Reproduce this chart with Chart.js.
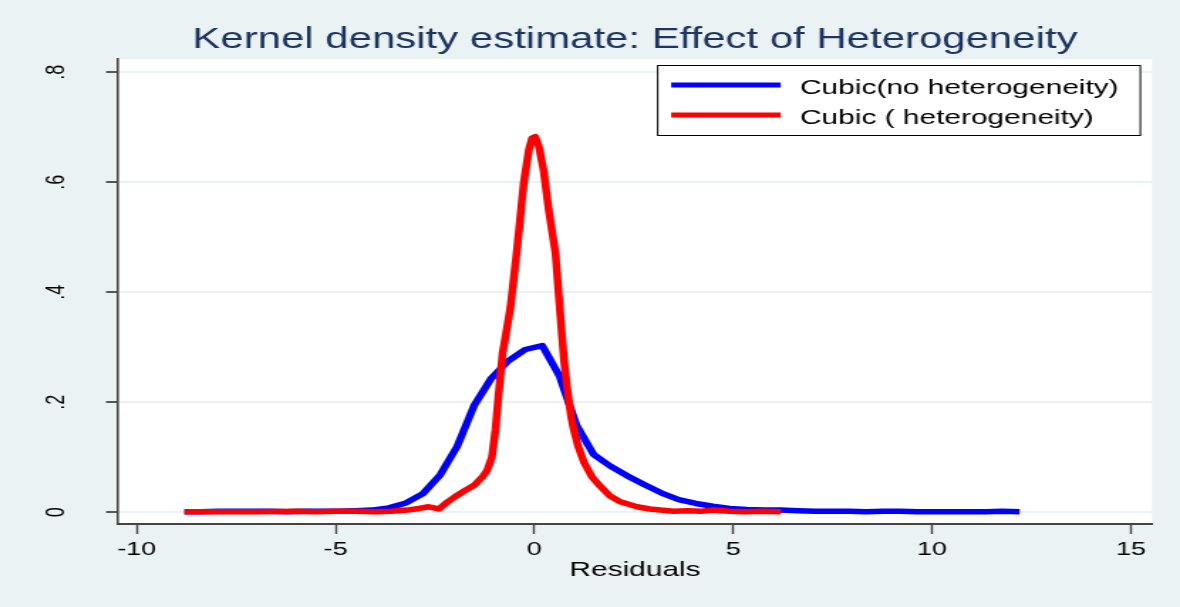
<!DOCTYPE html>
<html>
<head>
<meta charset="utf-8">
<title>Kernel density estimate</title>
<script src="https://cdn.jsdelivr.net/npm/chart.js@4.4.1/dist/chart.umd.min.js"></script>
<style>
  html, body { margin: 0; padding: 0; background: #eaf2f3; }
  #kde { display: block; }
</style>
</head>
<body>
<!-- drawn at 830 wide, then stretched to the page width like the original graph export -->
<canvas id="kde" width="830" height="607" style="width:1180px;height:607px"></canvas>
<script>
// residual grid and density values, no heterogeneity
var noHetX = [-8.8, -8.37, -7.94, -7.51, -7.09, -6.66, -6.23, -5.8, -5.37, -4.94,
              -4.51, -4.09, -3.66, -3.23, -2.8, -2.37, -1.94, -1.51, -1.09, -0.66,
              -0.23, 0.2, 0.63, 1.06, 1.49, 1.91, 2.34, 2.77, 3.2, 3.63,
              4.06, 4.49, 4.91, 5.34, 5.77, 6.2, 6.63, 7.06, 7.49, 7.91,
              8.34, 8.77, 9.2, 9.63, 10.06, 10.49, 10.91, 11.34, 11.77, 12.2];
var noHetY = [0.001, 0.001, 0.002, 0.002, 0.002, 0.002, 0.001, 0.002, 0.002, 0.002,
              0.003, 0.004, 0.008, 0.017, 0.034, 0.068, 0.12, 0.195, 0.243, 0.275,
              0.296, 0.303, 0.248, 0.158, 0.105, 0.084, 0.066, 0.05, 0.035, 0.023,
              0.016, 0.011, 0.007, 0.005, 0.004, 0.004, 0.003, 0.002, 0.002, 0.002,
              0.001, 0.002, 0.002, 0.001, 0.001, 0.001, 0.001, 0.001, 0.002, 0.001];

// residual grid and density values, with heterogeneity
var hetX = [-8.8, -8.0, -7.0, -6.0, -5.5, -5.0, -4.5, -4.0, -3.6, -3.2,
            -2.9, -2.66, -2.4, -2.2, -2.0, -1.78, -1.5, -1.3, -1.19, -1.07,
            -0.98, -0.9, -0.8, -0.73, -0.6, -0.43, -0.27, -0.14, -0.06, 0.02,
            0.11, 0.23, 0.36, 0.53, 0.65, 0.74, 0.82, 0.92, 0.99, 1.1,
            1.24, 1.45, 1.66, 1.9, 2.16, 2.58, 2.9, 3.17, 3.5, 3.84,
            4.2, 4.5, 4.9, 5.3, 5.7, 6.2];
var hetY = [0.001, 0.001, 0.001, 0.002, 0.001, 0.002, 0.002, 0.001, 0.002, 0.004,
            0.007, 0.01, 0.006, 0.018, 0.028, 0.038, 0.05, 0.065, 0.076, 0.1,
            0.15, 0.215, 0.29, 0.318, 0.374, 0.483, 0.598, 0.659, 0.68, 0.683,
            0.666, 0.622, 0.55, 0.471, 0.36, 0.28, 0.228, 0.175, 0.15, 0.12,
            0.092, 0.064, 0.047, 0.03, 0.019, 0.01, 0.006, 0.004, 0.002, 0.003,
            0.002, 0.004, 0.002, 0.001, 0.002, 0.001];

var seriesLabels = ["Cubic(no heterogeneity)", "Cubic ( heterogeneity)"];
var seriesColors = ["#0000ff", "#ff0000"];
var xTicks = [-10, -5, 0, 5, 10, 15];
var yTicks = [0, 0.2, 0.4, 0.6, 0.8];

var FONT = "'Liberation Sans', Arial, Helvetica, sans-serif";
var BG = "#eaf2f3";

function toPoints(xs, ys) {
    var pts = [];
    for (var i = 0; i < xs.length; i++) {
        pts.push({x: xs[i], y: ys[i]});
    }
    return pts;
}

// grey graph region with a white plot region
var plotBackground = {
    id: 'plotBackground',
    beforeDraw: function(chart) {
        var ctx = chart.ctx, a = chart.chartArea;
        ctx.save();
        ctx.fillStyle = BG;
        ctx.fillRect(0, 0, chart.width, chart.height);
        ctx.fillStyle = "#ffffff";
        ctx.fillRect(a.left, a.top, a.right - a.left, a.bottom - a.top);
        ctx.restore();
    }
};

// boxed legend in the upper right corner of the plot
var boxLegend = {
    id: 'boxLegend',
    afterDraw: function(chart) {
        var ctx = chart.ctx, a = chart.chartArea;
        var w = 340.5, h = 71;
        var left = a.right - 7.7 - w, top = a.top + 6;
        ctx.save();
        ctx.fillStyle = "#ffffff";
        ctx.fillRect(left, top, w, h);
        ctx.strokeStyle = "#000000";
        ctx.lineWidth = 1;
        ctx.strokeRect(left + 0.5, top + 0.5, w - 1, h - 1);
        ctx.font = "21px " + FONT;
        ctx.textBaseline = "middle";
        ctx.textAlign = "left";
        chart.data.datasets.forEach(function(ds, i) {
            var y = top + 20 + i * 30;
            ctx.strokeStyle = ds.borderColor;
            ctx.lineWidth = 5;
            ctx.beginPath();
            ctx.moveTo(left + 10, y);
            ctx.lineTo(left + 87, y);
            ctx.stroke();
            ctx.fillStyle = "#000000";
            ctx.fillText(ds.label, left + 100.6, y + 3);
        });
        ctx.restore();
    }
};

var kdeChart = new Chart(document.getElementById("kde"), {
    type: 'line',
    data: {
        datasets: [
            {
                label: seriesLabels[0],
                data: toPoints(noHetX, noHetY),
                borderColor: seriesColors[0],
                borderWidth: 5.5,
                pointRadius: 0,
                tension: 0,
                borderJoinStyle: 'round',
                fill: false,
                order: 1
            },
            {
                label: seriesLabels[1],
                data: toPoints(hetX, hetY),
                borderColor: seriesColors[1],
                borderWidth: 5.5,
                pointRadius: 0,
                tension: 0,
                borderJoinStyle: 'round',
                fill: false,
                order: 0
            }
        ]
    },
    options: {
        responsive: false,
        animation: false,
        events: [],
        layout: { padding: { left: 0, right: 19.7, top: 0, bottom: 0 } },
        scales: {
            x: {
                type: 'linear',
                min: -10.47,
                max: 15.53,
                afterFit: function(scale) { scale.height = 83; },
                afterBuildTicks: function(scale) {
                    scale.ticks = xTicks.map(function(v) { return {value: v}; });
                },
                ticks: {
                    padding: 4,
                    maxRotation: 0,
                    color: "#000000",
                    font: { family: FONT, size: 19 },
                    callback: function(v) { return String(v); }
                },
                grid: {
                    drawOnChartArea: false,
                    tickLength: 10,
                    tickColor: "#444444",
                    tickWidth: 1.4
                },
                border: { color: "#444444", width: 2 },
                title: {
                    display: true,
                    text: "Residuals",
                    color: "#000000",
                    font: { family: FONT, size: 21 },
                    padding: { top: 0, bottom: 24 }
                }
            },
            y: {
                type: 'linear',
                min: -0.0213,
                max: 0.8242,
                afterFit: function(scale) { scale.width = 83; },
                afterBuildTicks: function(scale) {
                    scale.ticks = yTicks.map(function(v) { return {value: v}; });
                },
                ticks: {
                    minRotation: 90,
                    maxRotation: 90,
                    crossAlign: 'center',
                    padding: 26.7,
                    color: "#000000",
                    font: { family: FONT, size: 18 },
                    callback: function(v) {
                        var s = String(Math.round(v * 10) / 10);
                        return s.replace(/^0\./, ".");
                    }
                },
                grid: {
                    color: BG,
                    lineWidth: 2,
                    tickLength: 8.4,
                    tickColor: "#444444",
                    tickWidth: 1.8
                },
                border: { color: "#444444", width: 1.6 }
            }
        },
        plugins: {
            legend: { display: false },
            tooltip: { enabled: false },
            title: {
                display: true,
                fullSize: false,
                text: "Kernel density estimate: Effect of Heterogeneity",
                color: "#1c3461",
                font: { family: FONT, size: 29.5, weight: 'normal' },
                padding: { top: 22.3, bottom: 1.3 }
            }
        }
    },
    plugins: [plotBackground, boxLegend]
});
</script>
</body>
</html>
